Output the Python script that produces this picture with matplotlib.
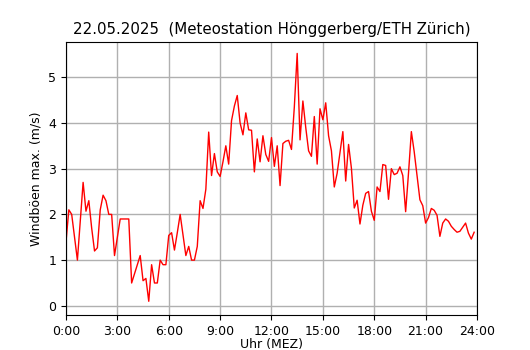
import matplotlib
matplotlib.use("Agg")
from matplotlib import pyplot as plt
import numpy as np

# Windböen max. (m/s), alle 10 Minuten ab 0:00
gusts = [
    1.4, 2.1, 2.0, 1.5, 1.0, 1.85, 2.7, 2.07, 2.3, 1.7, 1.2, 1.27,
    2.1, 2.42, 2.3, 2.0, 2.0, 1.1, 1.5, 1.9, 1.9, 1.9, 1.9, 0.5,
    0.7, 0.9, 1.1, 0.55, 0.6, 0.1, 0.9, 0.5, 0.5, 1.0, 0.9, 0.9,
    1.54, 1.6, 1.22, 1.6, 2.0, 1.55, 1.1, 1.3, 1.0, 1.0, 1.3, 2.3,
    2.13, 2.55, 3.8, 2.85, 3.33, 2.93, 2.83, 3.15, 3.5, 3.1, 4.05, 4.37,
    4.6, 4.0, 3.74, 4.22, 3.85, 3.84, 2.93, 3.65, 3.15, 3.72, 3.31, 3.16,
    3.68, 3.05, 3.5, 2.63, 3.55, 3.6, 3.62, 3.42, 4.35, 5.52, 3.63, 4.48,
    3.9, 3.39, 3.27, 4.14, 3.1, 4.31, 4.07, 4.44, 3.72, 3.39, 2.6, 2.9,
    3.36, 3.81, 2.73, 3.53, 3.01, 2.14, 2.31, 1.79, 2.2, 2.46, 2.5, 2.07,
    1.87, 2.6, 2.5, 3.09, 3.07, 2.33, 3.0, 2.87, 2.9, 3.04, 2.85, 2.06,
    2.9, 3.81, 3.37, 2.85, 2.32, 2.19, 1.81, 1.93, 2.13, 2.09, 1.98, 1.52,
    1.81, 1.9, 1.85, 1.74, 1.67, 1.61, 1.63, 1.72, 1.81, 1.59, 1.46, 1.61,
]
hours = np.arange(len(gusts)) / 6.0
tick_hours = list(range(0, 25, 3))
tick_labels = ["%d:00" % h for h in tick_hours]

fig = plt.figure(figsize=(5.3, 3.5), dpi=100)
ax = fig.add_axes([0.1245, 0.1, 0.7755, 0.78])
ax.plot(hours, gusts, color="red", linewidth=1)
ax.set_xlim(0, 24)
ax.set_ylim(-0.2, 5.77)
ax.set_xticks(tick_hours)
ax.set_xticklabels(tick_labels)
ax.set_yticks(range(0, 6))
ax.grid(True, color="#b0b0b0", linewidth=1)
ax.set_axisbelow(True)
ax.tick_params(labelsize=9)
ax.set_xlabel("Uhr (MEZ)", fontsize=9, labelpad=0)
ax.set_ylabel("Windböen max. (m/s)", fontsize=9)
ax.set_title("22.05.2025  (Meteostation Hönggerberg/ETH Zürich)", fontsize=10.8)

fig.savefig("out.png", dpi=100)
